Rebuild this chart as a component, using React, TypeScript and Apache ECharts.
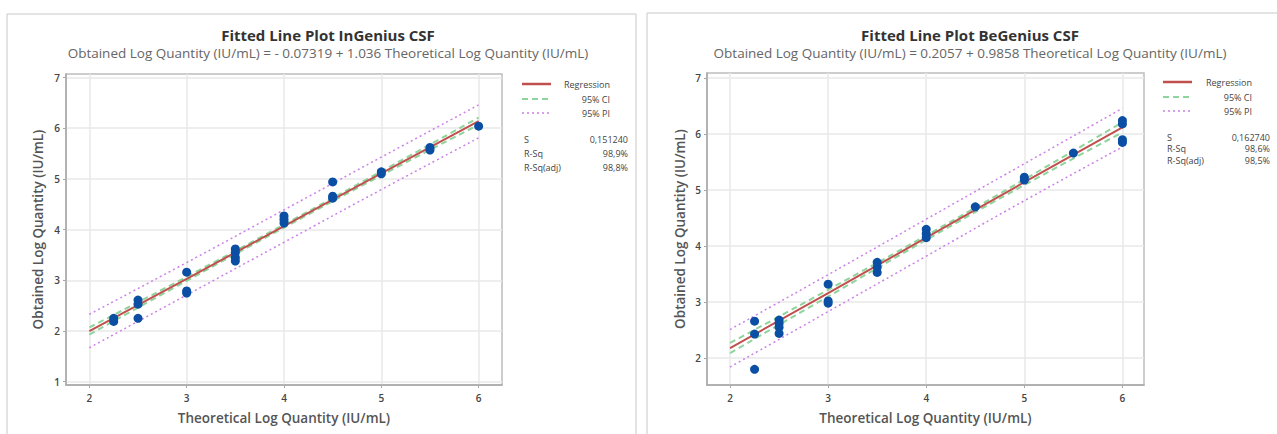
import React, { useEffect, useRef } from "react";
import * as echarts from "echarts";

// ---- Data ----
const leftTitle = "Fitted Line Plot InGenius CSF";
const leftSubtitle = "Obtained Log Quantity (IU/mL) = - 0.07319 + 1.036 Theoretical Log Quantity (IU/mL)";
const rightTitle = "Fitted Line Plot BeGenius CSF";
const rightSubtitle = "Obtained Log Quantity (IU/mL) = 0.2057 + 0.9858 Theoretical Log Quantity (IU/mL)";

const xTicks = [2, 3, 4, 5, 6];
const leftYTicks = [1, 2, 3, 4, 5, 6, 7];
const rightYTicks = [2, 3, 4, 5, 6, 7];

const leftX = [2.25, 2.25, 2.5, 2.5, 2.5, 3, 3, 3, 3.5, 3.5, 3.5, 3.5, 4, 4, 4, 4.5, 4.5, 4.5, 5, 5, 5.5, 5.5, 6];
const leftY = [2.25, 2.19, 2.61, 2.53, 2.25, 3.16, 2.79, 2.75, 3.62, 3.55, 3.45, 3.38, 4.27, 4.2, 4.13, 4.94, 4.66, 4.62, 5.14, 5.1, 5.62, 5.57, 6.04];

const rightX = [2.25, 2.25, 2.25, 2.5, 2.5, 2.5, 2.5, 3, 3, 3, 3.5, 3.5, 3.5, 4, 4, 4, 4.5, 5, 5, 5.5, 6, 6, 6, 6];
const rightY = [2.66, 2.43, 1.8, 2.68, 2.62, 2.55, 2.44, 3.32, 3.02, 2.98, 3.71, 3.62, 3.53, 4.3, 4.22, 4.15, 4.7, 5.23, 5.18, 5.66, 6.24, 6.18, 5.9, 5.85];

const bandX = [2, 3, 4, 5, 6];
const leftFit = [2.0, 3.03, 4.07, 5.11, 6.14];
const leftCIUp = [2.07, 3.07, 4.1, 5.15, 6.21];
const leftCILow = [1.93, 2.99, 4.04, 5.07, 6.07];
const leftPIUp = [2.33, 3.35, 4.39, 5.43, 6.46];
const leftPILow = [1.67, 2.71, 3.75, 4.79, 5.81];

const rightFit = [2.18, 3.16, 4.15, 5.14, 6.12];
const rightCIUp = [2.27, 3.22, 4.19, 5.19, 6.21];
const rightCILow = [2.09, 3.1, 4.11, 5.09, 6.03];
const rightPIUp = [2.51, 3.49, 4.48, 5.47, 6.46];
const rightPILow = [1.84, 2.83, 3.82, 4.81, 5.77];

const legendNames = ["Regression", "95% CI", "95% PI"];
const statLabels = ["S", "R-Sq", "R-Sq(adj)"];
const leftStats = ["0,151240", "98,9%", "98,8%"];
const rightStats = ["0,162740", "98,6%", "98,5%"];

const xName = "Theoretical Log Quantity (IU/mL)";
const yName = "Obtained Log Quantity (IU/mL)";

// ---- Styles ----
const FONT = "Open Sans";
const RED = "#c0504d";
const GREEN = "#8fd49c";
const PURPLE = "#cc80e8";
const BLUE = "#0a4fa3";

const zip = (xs: number[], ys: number[]) => xs.map((x, i) => [x, ys[i]]);

function axisX(gridIndex: number, min: number, max: number) {
  return {
    type: "value",
    gridIndex,
    min,
    max,
    name: xName,
    nameLocation: "middle",
    nameGap: 26,
    nameTextStyle: { fontFamily: FONT, fontSize: 13.5, fontWeight: 600, color: "#555" },
    axisLine: { show: true, lineStyle: { color: "#a8a8a8", width: 1.5 } },
    axisTick: { show: true, length: 3, customValues: xTicks, lineStyle: { color: "#a8a8a8" } },
    axisLabel: { customValues: xTicks, fontFamily: FONT, fontSize: 10, fontWeight: 600, color: "#444", margin: 8 },
    splitLine: { show: true, lineStyle: { color: "#e8e8e8", width: 1.5 } },
  };
}

function axisY(gridIndex: number, min: number, max: number, ticks: number[], gap: number) {
  return {
    type: "value",
    gridIndex,
    min,
    max,
    name: yName,
    nameLocation: "middle",
    nameGap: gap,
    nameTextStyle: { fontFamily: FONT, fontSize: 13.5, fontWeight: 600, color: "#555" },
    axisLine: { show: true, lineStyle: { color: "#a8a8a8", width: 1.5 } },
    axisTick: { show: true, length: 3, customValues: ticks, lineStyle: { color: "#a8a8a8" } },
    axisLabel: { customValues: ticks, fontFamily: FONT, fontSize: 10, fontWeight: 600, color: "#444", margin: 6 },
    splitLine: { show: true, lineStyle: { color: "#e8e8e8", width: 1.5 } },
  };
}

function lineSeries(idx: number, ys: number[], color: string, width: number, type: any, z: number) {
  return {
    type: "line",
    xAxisIndex: idx,
    yAxisIndex: idx,
    data: zip(bandX, ys),
    smooth: true,
    showSymbol: false,
    silent: true,
    z,
    lineStyle: { color, width, type },
  };
}

function legendGraphics(lineX: number, textRight: number, ys: number[], statX: number, statRight: number, statYs: number[], stats: string[]) {
  const els: any[] = [];
  const styles = [
    { stroke: RED, lineWidth: 2.5 },
    { stroke: GREEN, lineWidth: 2, lineDash: [6, 4] },
    { stroke: PURPLE, lineWidth: 1.5, lineDash: [2, 3] },
  ];
  legendNames.forEach((n, i) => {
    els.push({ type: "line", shape: { x1: lineX, y1: ys[i], x2: lineX + 29, y2: ys[i] }, style: styles[i] });
    els.push({
      type: "text",
      x: textRight,
      y: ys[i],
      style: { text: n, fontFamily: FONT, fontSize: 9, fill: "#444", align: "right", verticalAlign: "middle" },
    });
  });
  statLabels.forEach((s, i) => {
    els.push({
      type: "text",
      x: statX,
      y: statYs[i],
      style: { text: s, fontFamily: FONT, fontSize: 9, fill: "#444", align: "left", verticalAlign: "middle" },
    });
    els.push({
      type: "text",
      x: statRight,
      y: statYs[i],
      style: { text: stats[i], fontFamily: FONT, fontSize: 9, fill: "#444", align: "right", verticalAlign: "middle" },
    });
  });
  return els;
}

export default function App() {
  const ref = useRef<HTMLDivElement>(null);
  useEffect(() => {
    if (!ref.current) return;
    const chart = echarts.init(ref.current, undefined, { renderer: "svg" });
    const option: any = {
      animation: false,
      backgroundColor: "#ffffff",
      grid: [
        { left: 66, top: 74, width: 436, height: 311, show: true, borderColor: "#bdbdbd", borderWidth: 1.5 },
        { left: 707, top: 73, width: 437, height: 312, show: true, borderColor: "#bdbdbd", borderWidth: 1.5 },
      ],
      xAxis: [axisX(0, 1.76, 6.24), axisX(1, 1.765, 6.22)],
      yAxis: [axisY(0, 0.935, 7.07, leftYTicks, 21), axisY(1, 1.52, 7.09, rightYTicks, 20)],
      series: [
        lineSeries(0, leftPIUp, PURPLE, 1.5, [2, 3], 2),
        lineSeries(0, leftPILow, PURPLE, 1.5, [2, 3], 2),
        lineSeries(0, leftCIUp, GREEN, 2, [6, 4], 3),
        lineSeries(0, leftCILow, GREEN, 2, [6, 4], 3),
        lineSeries(0, leftFit, RED, 2, "solid", 4),
        {
          type: "scatter",
          xAxisIndex: 0,
          yAxisIndex: 0,
          data: zip(leftX, leftY),
          symbolSize: 9,
          itemStyle: { color: BLUE, opacity: 1 },
          z: 5,
        },
        lineSeries(1, rightPIUp, PURPLE, 1.5, [2, 3], 2),
        lineSeries(1, rightPILow, PURPLE, 1.5, [2, 3], 2),
        lineSeries(1, rightCIUp, GREEN, 2, [6, 4], 3),
        lineSeries(1, rightCILow, GREEN, 2, [6, 4], 3),
        lineSeries(1, rightFit, RED, 2, "solid", 4),
        {
          type: "scatter",
          xAxisIndex: 1,
          yAxisIndex: 1,
          data: zip(rightX, rightY),
          symbolSize: 9,
          itemStyle: { color: BLUE, opacity: 1 },
          z: 5,
        },
      ],
      graphic: [
        { type: "rect", shape: { x: 7, y: 14, width: 629, height: 430 }, style: { fill: "none", stroke: "#c8c8c8", lineWidth: 1 }, z: -1 },
        { type: "rect", shape: { x: 647, y: 13, width: 640, height: 430 }, style: { fill: "none", stroke: "#c8c8c8", lineWidth: 1 }, z: -1 },
        { type: "text", x: 328, y: 35, style: { text: leftTitle, fontFamily: FONT, fontSize: 15, fontWeight: 700, fill: "#333", align: "center", verticalAlign: "middle" } },
        { type: "text", x: 328, y: 53, style: { text: leftSubtitle, fontFamily: FONT, fontSize: 13.5, fill: "#666", align: "center", verticalAlign: "middle" } },
        { type: "text", x: 970, y: 35, style: { text: rightTitle, fontFamily: FONT, fontSize: 15, fontWeight: 700, fill: "#333", align: "center", verticalAlign: "middle" } },
        { type: "text", x: 970, y: 53, style: { text: rightSubtitle, fontFamily: FONT, fontSize: 13.5, fill: "#666", align: "center", verticalAlign: "middle" } },
        ...legendGraphics(522, 610, [84, 99, 113], 524, 628, [139, 153, 167], leftStats),
        ...legendGraphics(1163, 1252, [82, 97, 111], 1167, 1270, [137, 148, 160], rightStats),
      ],
    };
    chart.setOption(option);
    return () => chart.dispose();
  }, []);
  return <div ref={ref} style={{ position: "fixed", left: 0, top: 0, width: 1277, height: 434 }} />;
}
